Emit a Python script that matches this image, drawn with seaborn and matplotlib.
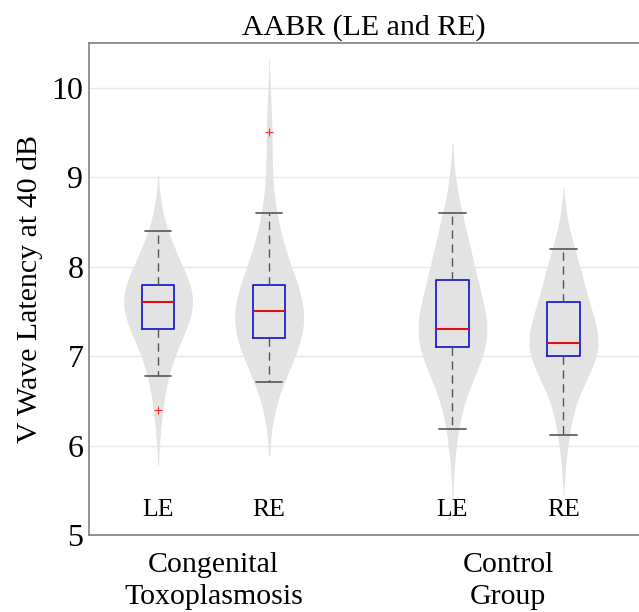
import numpy as np
import pandas as pd
import seaborn as sns
import matplotlib.pyplot as plt

# V wave latency samples (ms)
toxo_le = [6.4, 6.78, 7.0, 7.1, 7.2, 7.3, 7.4, 7.5, 7.5, 7.55, 7.6,
           7.6, 7.65, 7.7, 7.75, 7.8, 7.9, 8.0, 8.1, 8.2, 8.4]
toxo_re = [6.71, 6.9, 7.0, 7.1, 7.15, 7.2, 7.3, 7.35, 7.4, 7.45, 7.5,
           7.55, 7.6, 7.65, 7.7, 7.8, 7.95, 8.1, 8.3, 8.6, 9.5]
ctrl_le = [6.18, 6.6, 6.85, 6.95, 7.05, 7.1, 7.15, 7.2, 7.25, 7.28, 7.3,
           7.4, 7.5, 7.6, 7.75, 7.85, 7.95, 8.05, 8.2, 8.4, 8.6]
ctrl_re = [6.12, 6.45, 6.7, 6.85, 6.95, 7.0, 7.05, 7.08, 7.1, 7.12, 7.15,
           7.2, 7.3, 7.4, 7.5, 7.6, 7.7, 7.8, 7.95, 8.05, 8.2]

positions = [1.0, 2.0, 3.65, 4.65]
eye_labels = ["LE", "RE", "LE", "RE"]
group_centers = [1.5, 4.15]
group_names = ["Congenital\nToxoplasmosis", "Control\nGroup"]

samples = [toxo_le, toxo_re, ctrl_le, ctrl_re]
df = pd.DataFrame({
    "pos": np.concatenate([[p] * len(s) for p, s in zip(positions, samples)]),
    "latency": np.concatenate(samples),
})

sns.set_style("white")
plt.rcParams["font.family"] = ["Liberation Serif", "DejaVu Serif"]
plt.rcParams["text.color"] = "black"
plt.rcParams["xtick.color"] = "black"
plt.rcParams["ytick.color"] = "black"
plt.rcParams["axes.labelcolor"] = "black"

fig = plt.figure(figsize=(6.39, 6.12), dpi=100)
ax = fig.add_axes([89 / 639, 77 / 612, 550 / 639, 492 / 612])

sns.violinplot(data=df, x="pos", y="latency", native_scale=True, color="#e3e3e3",
               linewidth=0, inner=None, density_norm="width", width=0.62,
               bw_adjust=1.2, cut=2, saturation=1, ax=ax)

sns.boxplot(data=df, x="pos", y="latency", native_scale=True, width=0.29,
            fill=False, whis=1.5, capwidths=0.24, ax=ax,
            boxprops={"color": "#1f1fcc", "linewidth": 1.3},
            medianprops={"color": "#e01010", "linewidth": 1.5},
            whiskerprops={"color": "#555555", "linewidth": 1.0, "linestyle": (0, (6, 4))},
            capprops={"color": "#555555", "linewidth": 1.2},
            flierprops={"marker": "+", "markeredgecolor": "#ff3030", "markersize": 6,
                        "markeredgewidth": 0.8})

for p, lab in zip(positions, eye_labels):
    ax.text(p, 5.28, lab, ha="center", va="center", fontsize=18.5)

ax.set_xlim(0.378, 5.33)
ax.set_ylim(5, 10.5)
ax.set_yticks([5, 6, 7, 8, 9, 10])
ax.set_xticks(group_centers, group_names)
for lbl in ax.get_xticklabels():
    lbl.set_linespacing(1.3)
ax.tick_params(axis="x", length=0, pad=12, labelsize=21.5)
ax.tick_params(axis="y", length=0, pad=4, labelsize=23)
ax.yaxis.grid(True, color="#e8e8e8", linewidth=1)
ax.set_axisbelow(True)
ax.set_xlabel("")
ax.set_ylabel("V Wave Latency at 40 dB", fontsize=21.5, labelpad=6)
ax.set_title("AABR (LE and RE)", fontsize=21.5, pad=6)
for side in ["top", "left", "bottom"]:
    ax.spines[side].set_color("#808080")
    ax.spines[side].set_linewidth(1.2)
ax.spines["right"].set_visible(False)

plt.savefig("out.png", dpi=100)
